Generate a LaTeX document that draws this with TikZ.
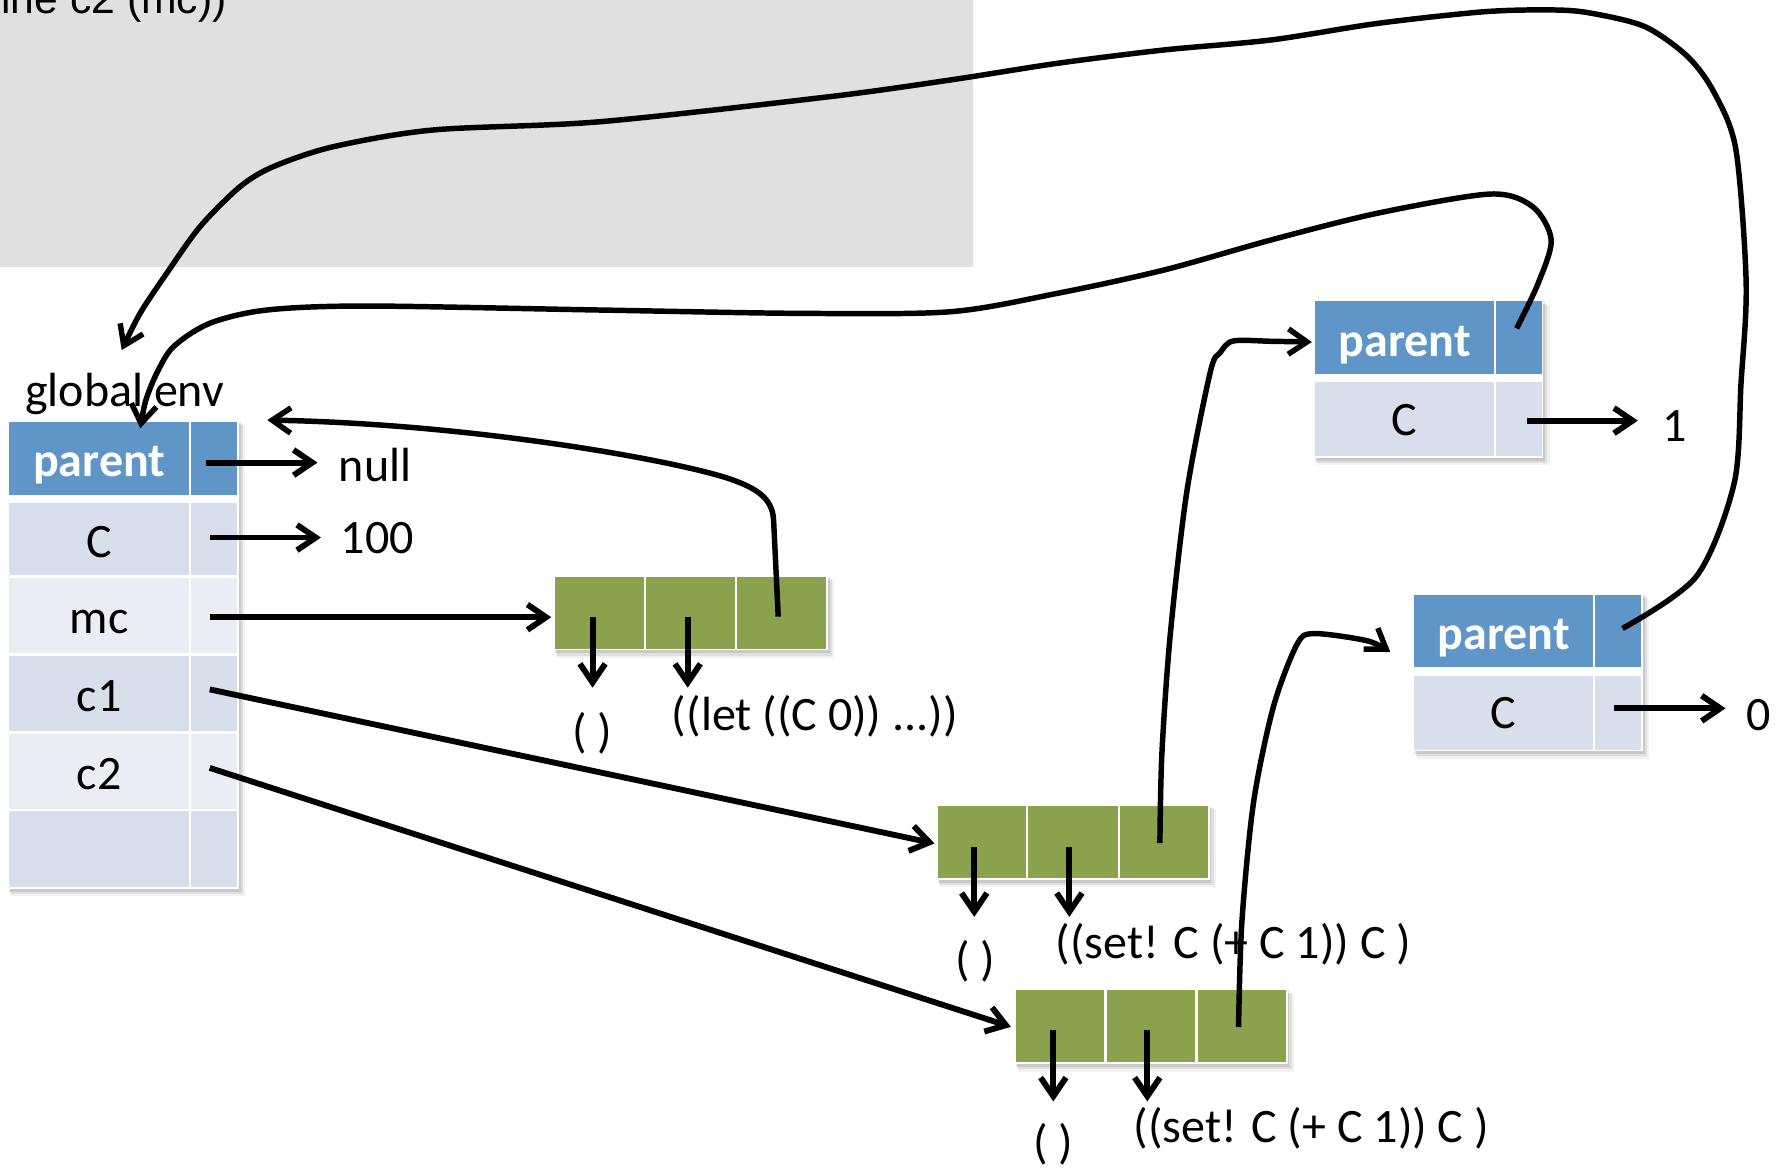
\documentclass[tikz,border=0pt]{standalone}
\usepackage{fontspec}
\setmainfont{Carlito}
\newfontfamily\arialf{Liberation Sans}
\usetikzlibrary{arrows.meta}
\definecolor{hdr}{RGB}{96,149,200}
\definecolor{rowA}{RGB}{216,222,235}
\definecolor{rowB}{RGB}{234,237,244}
\definecolor{grn}{RGB}{138,162,78}
\definecolor{greybg}{RGB}{224,224,224}
\newcommand\shbox[4]{%
  \fill[black,opacity=0.05] (#1+2,#2+3) rectangle (#3+7,#4+8);
  \fill[black,opacity=0.08] (#1+1,#2+2) rectangle (#3+5,#4+6);
  \fill[black,opacity=0.10] (#1,#2) rectangle (#3+3,#4+4);
  \fill[white] (#1-1.5,#2-1.5) rectangle (#3+1.5,#4+1.5);}
\newcommand\greenblock[6]{% x1 x2 x3 x4 x5 x6 ; uses \gya \gyb
  \shbox{#1}{\gya}{#6}{\gyb}
  \fill[grn] (#1,\gya) rectangle (#2,\gyb);
  \fill[grn] (#3,\gya) rectangle (#4,\gyb);
  \fill[grn] (#5,\gya) rectangle (#6,\gyb);}
\begin{document}
\begin{tikzpicture}[x=0.8595pt,y=-0.8595pt,
  lbl/.style={font=\fontsize{36}{43}\selectfont, inner sep=0pt, anchor=base},
  hdl/.style={font=\fontsize{36}{43}\selectfont\bfseries, text=white, inner sep=0pt, anchor=base},
  ptr/.style={line width=4.4pt, -{Straight Barb[length=14pt,width=19pt]}},
  lnk/.style={line width=4.1pt, -{Straight Barb[length=14pt,width=19pt]}}]
\useasboundingbox (0,0) rectangle (1560,1020);
\clip (0,0) rectangle (1560,1020);
% grey code area
\fill[greybg] (0,0) rectangle (848.7,232.7);
\node[font=\arialf\fontsize{32}{38}\selectfont, inner sep=0pt, anchor=base east] (code) at (198,11.6) {ine c2 (mc))};

% ---------- global environment table
\shbox{8}{368}{207}{774}
\fill[hdr] (8,368) rectangle (165,432);
\fill[hdr] (167,368) rectangle (207,432);
\foreach \ya/\yb/\cc in {439/502/rowA, 504/570/rowB, 572/638/rowA, 640/706/rowB, 708/774/rowA}{
  \fill[\cc] (8,\ya) rectangle (165,\yb);
  \fill[\cc] (167,\ya) rectangle (207,\yb);
}
\node[lbl, anchor=base west] (glab) at (21.7,355) {global env};
\node[hdl] (gpar) at (86.5,416) {parent};
\node[lbl] (gC) at (86.5,486) {C};
\node[lbl] (gmc) at (86.5,553) {mc};
\node[lbl] (gc1) at (86.5,621) {c1};
\node[lbl] (gc2) at (86.5,689) {c2};
\node[lbl, anchor=base west] (null) at (295.5,420) {null};
\node[lbl, anchor=base west] (hundred) at (297,483) {100};

% ---------- closures
\def\gya{503}\def\gyb{566}
\greenblock{484}{562}{564}{641}{643}{721}
\def\gya{703}\def\gyb{766}
\greenblock{818}{895}{897}{975}{977}{1054}
\def\gya{864}\def\gyb{927}
\greenblock{886}{963}{966}{1043}{1045}{1122}

\node[lbl] (p1) at (516.5,652) {( )};
\node[lbl, anchor=base west] (b1) at (586,637) {((let ((C 0)) ...))};
\node[lbl] (p2) at (851,851) {( )};
\node[lbl, anchor=base west] (b2) at (921,836.5) {((set! C (+ C 1)) C )};
\node[lbl] (p3) at (919,1011) {( )};
\node[lbl, anchor=base west] (b3) at (989,996.5) {((set! C (+ C 1)) C )};

% ---------- frame 1 (C = 1)
\shbox{1147}{263}{1345}{398}
\fill[hdr] (1147,263) rectangle (1303.5,326);
\fill[hdr] (1305.5,263) rectangle (1345,326);
\fill[rowA] (1147,333) rectangle (1303.5,398);
\fill[rowA] (1305.5,333) rectangle (1345,398);
\node[hdl] (f1par) at (1225.5,311) {parent};
\node[lbl] (f1C) at (1225.5,380) {C};
\node[lbl, anchor=base west] (one) at (1450,385) {1};

% ---------- frame 2 (C = 0)
\shbox{1234}{519}{1432}{654}
\fill[hdr] (1234,519) rectangle (1389.5,582);
\fill[hdr] (1391.5,519) rectangle (1432,582);
\fill[rowA] (1234,589.6) rectangle (1389.5,654);
\fill[rowA] (1391.5,589.6) rectangle (1432,654);
\node[hdl] (f2par) at (1312,567) {parent};
\node[lbl] (f2C) at (1312,636) {C};
\node[lbl, anchor=base west] (zero) at (1523.6,637) {0};

% ---------- anchor coordinates
\coordinate (gparv) at (180,403.6);  \coordinate (nullin) at (277,403.6);
\coordinate (gCv) at (183,469);      \coordinate (hundin) at (280,469);
\coordinate (gmcv) at (183,538.5);   \coordinate (g1in) at (481,538.5);
\coordinate (gc1v) at (183,601.5);   \coordinate (g2in) at (815.4,735.9);
\coordinate (gc2v) at (183,670);     \coordinate (g3in) at (882,895.9);
\coordinate (g1a) at (517,538);  \coordinate (g1aend) at (517,600);
\coordinate (g1b) at (600,538);  \coordinate (g1bend) at (600,600);
\coordinate (g1c) at (679,538);
\coordinate (g2a) at (850,739);  \coordinate (g2aend) at (850,800);
\coordinate (g2b) at (933,739);  \coordinate (g2bend) at (933,800);
\coordinate (g2c) at (1012,735.6);
\coordinate (g3a) at (919,899);  \coordinate (g3aend) at (919,961);
\coordinate (g3b) at (1001,899); \coordinate (g3bend) at (1001,961);
\coordinate (g3c) at (1080.6,896);
\coordinate (f1Cv) at (1332.6,367);  \coordinate (onein) at (1429,367);
\coordinate (f2Cv) at (1408,618);    \coordinate (zeroin) at (1505.5,618);
\coordinate (f1pv) at (1323.3,286.5);
\coordinate (f2pv) at (1415.6,548.3);
\coordinate (f1in) at (1144.6,298.4);
\coordinate (f2in) at (1212.9,568.7);
\coordinate (gparin) at (233.2,366.5);
\coordinate (gtopin) at (122.4,373.7);
\coordinate (gabove) at (106.2,305.4);

% ---------- straight pointers
\draw[ptr] (gparv) -- (nullin);
\draw[ptr] (gCv) -- (hundin);
\draw[ptr] (gmcv) -- (g1in);
\draw[ptr] (gc1v) -- (g2in);
\draw[ptr] (gc2v) -- (g3in);
\draw[ptr] (g1a) -- (g1aend);
\draw[ptr] (g1b) -- (g1bend);
\draw[ptr] (g2a) -- (g2aend);
\draw[ptr] (g2b) -- (g2bend);
\draw[ptr] (g3a) -- (g3aend);
\draw[ptr] (g3b) -- (g3bend);
\draw[ptr] (f1Cv) -- (onein);
\draw[ptr] (f2Cv) -- (zeroin);

% ---------- curved pointers
\draw[lnk] (g1c) -- (675,455) .. controls (674.5,436) and (662,427) .. (640,419)
  .. controls (600,404) and (420,370) .. (gparin);
\draw[lnk] plot[smooth, tension=0.5] coordinates {(g2c) (1013.7,658) (1021,554) (1035.5,428.8) (1056,324.4) (1064.6,307.7) (1076,297.5) (1110,297.8) (f1in)};
\draw[lnk] plot[smooth, tension=0.5] coordinates {(g3c) (1083.5,804.6) (1093.7,700) (1111,616.7) (1131.5,562.4) (1146,552.8) (1192.6,559) (f2in)};
\draw[lnk] plot[smooth, tension=0.5] coordinates {(f1pv) (1342,247.2) (1353.4,209.4) (1337.3,180.4) (1300,169.3) (1202,186) (1108.8,209.4) (1015.5,235.6) (922.2,256) (829,272) (698,273.4) (523.6,270.5) (320,267) (232.7,270.5) (183.2,282) (151.3,302.5) (136.7,325.8) (127,350) (gtopin)};
\draw[lnk] plot[smooth, tension=0.5] coordinates {(f2pv) (1480,503) (1513,421.7) (1519,334.5) (1523.5,247.2) (1514.6,130.9) (1495.9,81.4) (1472.6,49.5) (1435.3,23.3) (1388.7,11.6) (1356,8.7) (1295.4,10.2) (1202,20.4) (1108.8,34.9) (1015.5,43.6) (922.2,55.3) (829,69.8) (723.4,84.4) (523.6,106.2) (378,113.4) (290.8,128) (238.5,145.4) (209.4,162.9) (174.5,197.8) (145.4,238.5) (122.2,273.4) (gabove)};
\end{tikzpicture}
\end{document}
